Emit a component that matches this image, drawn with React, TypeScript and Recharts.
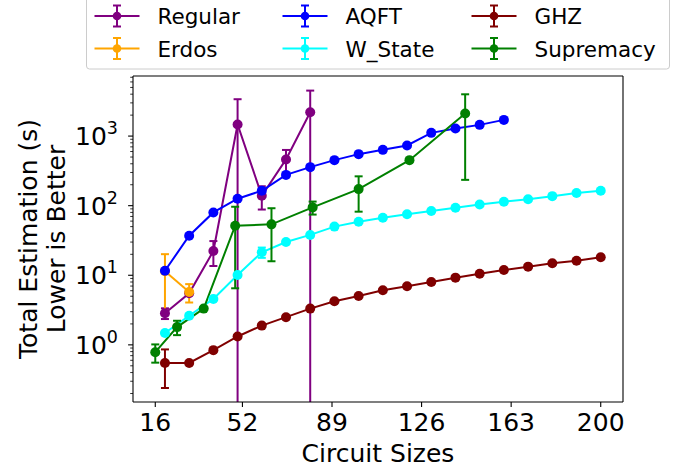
import React from 'react';
import { LineChart, Line, XAxis, YAxis, ErrorBar, ReferenceLine } from 'recharts';

const FONT = '"DejaVu Sans", Verdana, sans-serif';

// ---- data ----
const regularSizes = [20, 30, 40, 50, 60, 70, 80];
const regularTimes = [2.85, 5.5, 22.3, 1466, 139, 462, 2203];
const regularErrs = [0.5, 0, 8.7, 1920, 51, 170, 2300];

const erdosSizes = [20, 30];
const erdosTimes = [11.4, 5.76];
const erdosErrs = [8.7, 1.7];

const aqftSizes = [20, 30, 40, 50, 60, 70, 80, 90, 100, 110, 120, 130, 140, 150, 160];
const aqftTimes = [11.6, 37, 80, 126, 164, 277, 358, 451, 550, 634, 733, 1112, 1286, 1449, 1709];
const aqftErrs = [0, 0, 0, 0, 0, 0, 0, 0, 0, 0, 0, 0, 0, 0, 0];

const wstateSizes = [20, 30, 40, 50, 60, 70, 80, 90, 100, 110, 120, 130, 140, 150, 160, 170, 180, 190, 200];
const wstateTimes = [1.48, 2.62, 4.57, 10.1, 21.4, 30, 38, 50, 58.7, 67, 75.5, 83.7, 93.3, 104, 114, 124, 137, 152, 164];
const wstateErrs = [0, 0, 0, 0, 3.6, 0, 0, 0, 0, 0, 0, 0, 0, 0, 0, 0, 0, 0, 0];

const ghzSizes = [20, 30, 40, 50, 60, 70, 80, 90, 100, 110, 120, 130, 140, 150, 160, 170, 180, 190, 200];
const ghzTimes = [0.55, 0.55, 0.84, 1.32, 1.89, 2.5, 3.32, 4.24, 5.04, 6.1, 6.95, 8.0, 9.24, 10.5, 11.9, 13.3, 14.9, 16.2, 18.1];
const ghzErrs = [0.31, 0, 0, 0, 0, 0, 0, 0, 0, 0, 0, 0, 0, 0, 0, 0, 0, 0, 0];

const supremacySizes = [16, 25, 36, 49, 64, 81, 100, 121, 144];
const supremacyTimes = [0.785, 1.8, 3.32, 51.5, 53.9, 94.5, 173, 451, 2110];
const supremacyErrs = [0.23, 0.42, 0, 45, 38, 20, 91, 0, 1875];

const xTicks = [16, 52, 89, 126, 163, 200];
const xDomain = [6.8, 209.2];
const yMajorTicks = [1, 10, 100, 1000];
const yMinorTicks = [
  0.2, 0.3, 0.4, 0.5, 0.6, 0.7, 0.8, 0.9,
  2, 3, 4, 5, 6, 7, 8, 9,
  20, 30, 40, 50, 60, 70, 80, 90,
  200, 300, 400, 500, 600, 700, 800, 900,
  2000, 3000, 4000, 5000, 6000, 7000,
];
const yDomain = [0.151, 7300];

// layout
const W = 686;
const H = 472;
const M = { top: 76, right: 63, bottom: 0, left: 0 };
const Y_AXIS_W = 133;
const X_AXIS_H = 70;
const PLOT = {
  x: M.left + Y_AXIS_W,
  y: M.top,
  w: W - M.left - Y_AXIS_W - M.right,
  h: H - M.top - M.bottom - X_AXIS_H,
};

type Pt = { x: number; y: number; e: [number, number] };
function build(xs: number[], ys: number[], es: number[]): Pt[] {
  return xs.map((x, i) => ({
    x,
    y: ys[i],
    e: [es[i] >= ys[i] ? ys[i] - 0.01 : es[i], es[i]] as [number, number],
  }));
}

const series = [
  { name: 'Regular', color: '#800080', data: build(regularSizes, regularTimes, regularErrs) },
  { name: 'Erdos', color: '#ffa500', data: build(erdosSizes, erdosTimes, erdosErrs) },
  { name: 'AQFT', color: '#0000ff', data: build(aqftSizes, aqftTimes, aqftErrs) },
  { name: 'W_State', color: '#00ffff', data: build(wstateSizes, wstateTimes, wstateErrs) },
  { name: 'GHZ', color: '#800000', data: build(ghzSizes, ghzTimes, ghzErrs) },
  { name: 'Supremacy', color: '#008000', data: build(supremacySizes, supremacyTimes, supremacyErrs) },
];

const yTicksAll = [...yMinorTicks, ...yMajorTicks].sort((a, b) => a - b);

const YTick = (props: any) => {
  const { x, y, payload } = props;
  const v = payload.value as number;
  const lg = Math.log10(v);
  const exp = Math.round(lg);
  const major = Math.abs(lg - exp) < 1e-6;
  if (!major) {
    return <line x1={x - 2.8} x2={x} y1={y} y2={y} stroke="#000" strokeWidth={0.8} />;
  }
  return (
    <g>
      <line x1={x - 4.9} x2={x} y1={y} y2={y} stroke="#000" strokeWidth={1.1} />
      <text x={x - 15} y={y + 9} textAnchor="end" fontSize={25} fontFamily={FONT} fill="#000">
        10
        <tspan dy={-11} fontSize={17.5}>{exp}</tspan>
      </text>
    </g>
  );
};

const XTick = (props: any) => {
  const { x, y, payload } = props;
  return (
    <g>
      <line x1={x} x2={x} y1={y} y2={y + 4.9} stroke="#000" strokeWidth={1.1} />
      <text x={x} y={y + 28.5} textAnchor="middle" fontSize={25} fontFamily={FONT} fill="#000">
        {payload.value}
      </text>
    </g>
  );
};

const XLabel = (props: any) => {
  const vb = props.viewBox || {};
  return (
    <text x={vb.x + vb.width / 2} y={vb.y + 60} textAnchor="middle" fontSize={25} fontFamily={FONT} fill="#000">
      Circuit Sizes
    </text>
  );
};

const YLabel = (props: any) => {
  const vb = props.viewBox || {};
  const cy = vb.y + vb.height / 2;
  return (
    <g>
      <text transform={`translate(${vb.x + 37}, ${cy}) rotate(-90)`} textAnchor="middle" fontSize={25} fontFamily={FONT} fill="#000">
        Total Estimation (s)
      </text>
      <text transform={`translate(${vb.x + 65}, ${cy}) rotate(-90)`} textAnchor="middle" fontSize={25} fontFamily={FONT} fill="#000">
        Lower is Better
      </text>
    </g>
  );
};

const legendCols = [117, 305, 494];
const legendRows = [16, 48.5];

const LegendBox = () => (
  <svg width={W} height={75} style={{ position: 'absolute', left: 0, top: 0, pointerEvents: 'none' }}>
    <defs>
      <clipPath id="plot-area-clip" clipPathUnits="userSpaceOnUse">
        <rect x={PLOT.x} y={PLOT.y} width={PLOT.w} height={PLOT.h} />
      </clipPath>
    </defs>
    <rect x={86.5} y={-4} width={583} height={73} rx={3} fill="#fff" fillOpacity={0.8} stroke="#cccccc" strokeWidth={1} />
    {series.map((s, i) => {
      const mx = legendCols[Math.floor(i / 2)];
      const my = legendRows[i % 2];
      return (
        <g key={s.name}>
          <line x1={mx - 22.5} x2={mx + 22.5} y1={my} y2={my} stroke={s.color} strokeWidth={2} />
          <line x1={mx} x2={mx} y1={my - 10.5} y2={my + 10.5} stroke={s.color} strokeWidth={2} />
          <line x1={mx - 4} x2={mx + 4} y1={my - 10.5} y2={my - 10.5} stroke={s.color} strokeWidth={2} />
          <line x1={mx - 4} x2={mx + 4} y1={my + 10.5} y2={my + 10.5} stroke={s.color} strokeWidth={2} />
          <circle cx={mx} cy={my} r={4.3} fill={s.color} />
          <text x={mx + 40.5} y={my + 8} fontSize={21.5} fontFamily={FONT} fill="#000">
            {s.name}
          </text>
        </g>
      );
    })}
  </svg>
);

export default function App() {
  return (
    <div style={{ position: 'absolute', left: 0, top: 0, width: W, height: H, background: '#fff', fontFamily: FONT }}>
      <style>{'.recharts-errorBars, .recharts-errorBar { clip-path: url(#plot-area-clip); }'}</style>
      <LineChart width={W} height={H} margin={M}>
        <XAxis
          type="number"
          dataKey="x"
          domain={xDomain}
          allowDataOverflow
          ticks={xTicks}
          interval={0}
          tickSize={0}
          tickMargin={0}
          tickLine={false}
          tick={<XTick />}
          height={X_AXIS_H}
          axisLine={{ stroke: '#000', strokeWidth: 1.1 }}
          label={{ content: <XLabel /> }}
        />
        <YAxis
          type="number"
          scale="log"
          domain={yDomain}
          allowDataOverflow
          ticks={yTicksAll}
          interval={0}
          tickSize={0}
          tickMargin={0}
          tickLine={false}
          tick={<YTick />}
          width={Y_AXIS_W}
          axisLine={{ stroke: '#000', strokeWidth: 1.1 }}
          label={{ content: <YLabel /> }}
        />
        <ReferenceLine y={yDomain[1]} stroke="#000" strokeWidth={1.1} ifOverflow="visible" />
        <ReferenceLine x={xDomain[1]} stroke="#000" strokeWidth={1.1} ifOverflow="visible" />
        {series.map((s) => (
          <Line
            key={s.name}
            data={s.data}
            dataKey="y"
            type="linear"
            stroke={s.color}
            strokeWidth={2}
            dot={{ r: 5, fill: s.color, stroke: s.color, strokeWidth: 0 }}
            activeDot={false}
            isAnimationActive={false}
          >
            <ErrorBar dataKey="e" direction="y" width={4} stroke={s.color} strokeWidth={2} />
          </Line>
        ))}
      </LineChart>
      <LegendBox />
    </div>
  );
}
